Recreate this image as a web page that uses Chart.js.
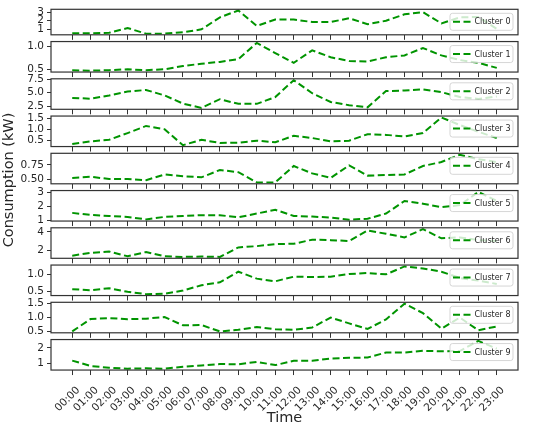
<!DOCTYPE html>
<html>
<head>
<meta charset="utf-8">
<script src="https://cdn.jsdelivr.net/npm/chart.js@4.4.1/dist/chart.umd.min.js"></script>
<style>
  html, body { margin: 0; padding: 0; background: #fff; }
  #wrap { position: relative; width: 550px; height: 428px; }
  #wrap canvas { position: absolute; left: 0; top: 0; }
</style>
</head>
<body>
<div id="wrap"></div>
<script>
const hours = ["00:00", "01:00", "02:00", "03:00", "04:00", "05:00", "06:00", "07:00",
  "08:00", "09:00", "10:00", "11:00", "12:00", "13:00", "14:00", "15:00",
  "16:00", "17:00", "18:00", "19:00", "20:00", "21:00", "22:00", "23:00"];

const clusterNames = ["Cluster 0", "Cluster 1", "Cluster 2", "Cluster 3", "Cluster 4",
  "Cluster 5", "Cluster 6", "Cluster 7", "Cluster 8", "Cluster 9"];

const cluster0 = [0.55, 0.55, 0.6, 1.15, 0.5, 0.5, 0.65, 1.0, 2.4, 3.2, 1.4, 2.15, 2.15, 1.85, 1.85, 2.3, 1.6, 2.0, 2.75, 3.0, 1.7, 2.4, 2.45, 1.05];
const cluster1 = [0.48, 0.47, 0.48, 0.5, 0.48, 0.5, 0.57, 0.62, 0.66, 0.72, 1.07, 0.85, 0.64, 0.91, 0.76, 0.68, 0.67, 0.76, 0.8, 0.96, 0.8, 0.7, 0.64, 0.53];
const cluster2 = [4.04, 3.9, 4.5, 5.2, 5.5, 4.5, 3.0, 2.2, 3.8, 2.95, 2.95, 4.2, 7.3, 4.9, 3.3, 2.7, 2.3, 5.3, 5.4, 5.6, 5.1, 4.2, 3.85, 4.3];
const cluster3 = [0.35, 0.47, 0.54, 0.84, 1.16, 1.01, 0.3, 0.54, 0.4, 0.41, 0.5, 0.43, 0.72, 0.62, 0.47, 0.5, 0.79, 0.76, 0.69, 0.84, 1.54, 1.2, 0.9, 0.62];
const cluster4 = [0.52, 0.54, 0.5, 0.5, 0.48, 0.58, 0.55, 0.53, 0.66, 0.62, 0.44, 0.44, 0.73, 0.6, 0.52, 0.74, 0.56, 0.57, 0.58, 0.73, 0.8, 0.93, 0.85, 0.8];
const cluster5 = [1.54, 1.39, 1.32, 1.25, 1.07, 1.25, 1.32, 1.37, 1.37, 1.22, 1.49, 1.76, 1.32, 1.27, 1.2, 1.05, 1.12, 1.49, 2.4, 2.2, 1.95, 2.1, 3.05, 2.4];
const cluster6 = [1.4, 1.7, 1.85, 1.33, 1.8, 1.33, 1.26, 1.3, 1.26, 2.3, 2.44, 2.67, 2.7, 3.15, 3.1, 3.0, 4.15, 3.8, 3.4, 4.3, 3.3, 3.4, 3.1, 3.0];
const cluster7 = [0.56, 0.53, 0.59, 0.48, 0.41, 0.42, 0.52, 0.68, 0.77, 1.09, 0.88, 0.8, 0.94, 0.93, 0.94, 1.02, 1.05, 1.01, 1.25, 1.19, 1.09, 0.9, 0.82, 0.72];
const cluster8 = [0.5, 0.95, 0.98, 0.94, 0.96, 1.02, 0.72, 0.73, 0.5, 0.56, 0.66, 0.58, 0.56, 0.64, 1.0, 0.79, 0.59, 0.93, 1.5, 1.16, 0.6, 1.0, 0.54, 0.68];
const cluster9 = [1.18, 0.83, 0.72, 0.66, 0.68, 0.66, 0.79, 0.87, 0.96, 0.94, 1.1, 0.89, 1.17, 1.17, 1.32, 1.36, 1.38, 1.7, 1.7, 1.81, 1.78, 1.8, 2.45, 1.95];

const series = [cluster0, cluster1, cluster2, cluster3, cluster4,
  cluster5, cluster6, cluster7, cluster8, cluster9];

// y tick values per panel and how many decimals they show
const yTickValues = [[1, 2, 3], [0.5, 1.0], [2.5, 5.0, 7.5], [0.5, 1.0, 1.5], [0.5, 0.75],
  [1, 2, 3], [2, 4], [0.5, 1.0], [0.5, 1.0, 1.5], [1, 2]];
const yTickDecimals = [0, 1, 1, 1, 2, 0, 0, 1, 1, 0];

const GREEN = "#009400";
const TEXT = "#262626";
const PANEL_TOP = 4.3, PANEL_STEP = 37.25, PANEL_H = 30.5;

Chart.defaults.font.family = "'DejaVu Sans', sans-serif";
Chart.defaults.color = TEXT;

const panelPlugin = {
  id: "panel",
  afterDatasetsDraw(chart, args, opts) {
    const { ctx, chartArea: a } = chart;
    // legend box in the upper right corner
    const w = 63, h = 17;
    const x = a.right - 5 - w, y = a.top + 4;
    ctx.save();
    ctx.beginPath();
    ctx.roundRect(x, y, w, h, 2.5);
    ctx.fillStyle = "rgba(255,255,255,0.8)";
    ctx.fill();
    ctx.strokeStyle = "rgba(204,204,204,0.8)";
    ctx.lineWidth = 1;
    ctx.stroke();
    ctx.setLineDash([7, 3.5]);
    ctx.strokeStyle = GREEN;
    ctx.lineWidth = 2;
    ctx.beginPath();
    ctx.moveTo(x + 3, y + h / 2);
    ctx.lineTo(x + 21, y + h / 2);
    ctx.stroke();
    ctx.setLineDash([]);
    ctx.fillStyle = TEXT;
    ctx.font = "8px 'DejaVu Sans'";
    ctx.textBaseline = "middle";
    ctx.fillText(opts.label, x + 24.5, y + h / 2 + 0.5);
    ctx.restore();
  },
  afterDraw(chart, args, opts) {
    const { ctx, chartArea: a } = chart;
    ctx.save();
    ctx.strokeStyle = "#333";
    ctx.lineWidth = 1.2;
    ctx.strokeRect(a.left, a.top, a.right - a.left, a.bottom - a.top);
    if (opts.yTitle) {
      ctx.translate(9, 180);
      ctx.rotate(-Math.PI / 2);
      ctx.fillStyle = TEXT;
      ctx.font = "14.5px 'DejaVu Sans'";
      ctx.textAlign = "center";
      ctx.textBaseline = "middle";
      ctx.fillText(opts.yTitle, 0, 0);
    }
    ctx.restore();
  }
};

const wrap = document.getElementById("wrap");

series.forEach((values, i) => {
  const isLast = i === series.length - 1;
  const top = PANEL_TOP + PANEL_STEP * i;
  const bottom = top + PANEL_H;
  const xHeight = isLast ? 428 - bottom - 1 : 6;

  const lo = Math.min(...values), hi = Math.max(...values);
  const margin = (hi - lo) * 0.05;

  const canvas = document.createElement("canvas");
  canvas.width = 550;
  canvas.height = 428;
  wrap.appendChild(canvas);

  new Chart(canvas, {
    type: "line",
    data: {
      datasets: [
        {
          label: clusterNames[i],
          data: values.map((v, k) => ({ x: k, y: v })),
          borderColor: GREEN,
          borderWidth: 2,
          borderDash: [7, 3.5],
          pointRadius: 0,
          fill: false,
          tension: 0,
        },
      ],
    },
    options: {
      responsive: false,
      animation: false,
      devicePixelRatio: 1,
      layout: {
        padding: { top: top, left: 0, right: 32, bottom: 428 - bottom - xHeight },
      },
      plugins: {
        legend: { display: false },
        tooltip: { enabled: false },
        panel: { label: clusterNames[i], yTitle: isLast ? "Consumption (kW)" : null },
      },
      scales: {
        x: {
          type: "linear",
          min: -1.15,
          max: 24.15,
          afterBuildTicks: (s) => { s.ticks = hours.map((h, k) => ({ value: k })); },
          afterFit: (s) => { s.height = xHeight; },
          ticks: {
            display: isLast,
            autoSkip: false,
            minRotation: 45,
            maxRotation: 45,
            padding: 9,
            labelOffset: 6,
            font: { size: 10.5 },
            color: TEXT,
            callback: (v) => hours[v],
          },
          grid: { drawOnChartArea: false, drawTicks: true, tickLength: 5, tickColor: "#333" },
          border: { display: false },
          title: {
            display: isLast,
            text: "Time",
            font: { size: 14.5 },
            color: TEXT,
            padding: { top: 0, bottom: 0 },
          },
        },
        y: {
          min: lo - margin,
          max: hi + margin,
          afterBuildTicks: (s) => { s.ticks = yTickValues[i].map((v) => ({ value: v })); },
          afterFit: (s) => { s.width = 51; },
          ticks: {
            autoSkip: false,
            padding: 3,
            font: { size: 10.5 },
            color: TEXT,
            callback: (v) => Number(v).toFixed(yTickDecimals[i]),
          },
          grid: { drawOnChartArea: false, drawTicks: true, tickLength: 4, tickColor: "#333" },
          border: { display: false },
        },
      },
    },
    plugins: [panelPlugin],
  });
});
</script>
</body>
</html>
